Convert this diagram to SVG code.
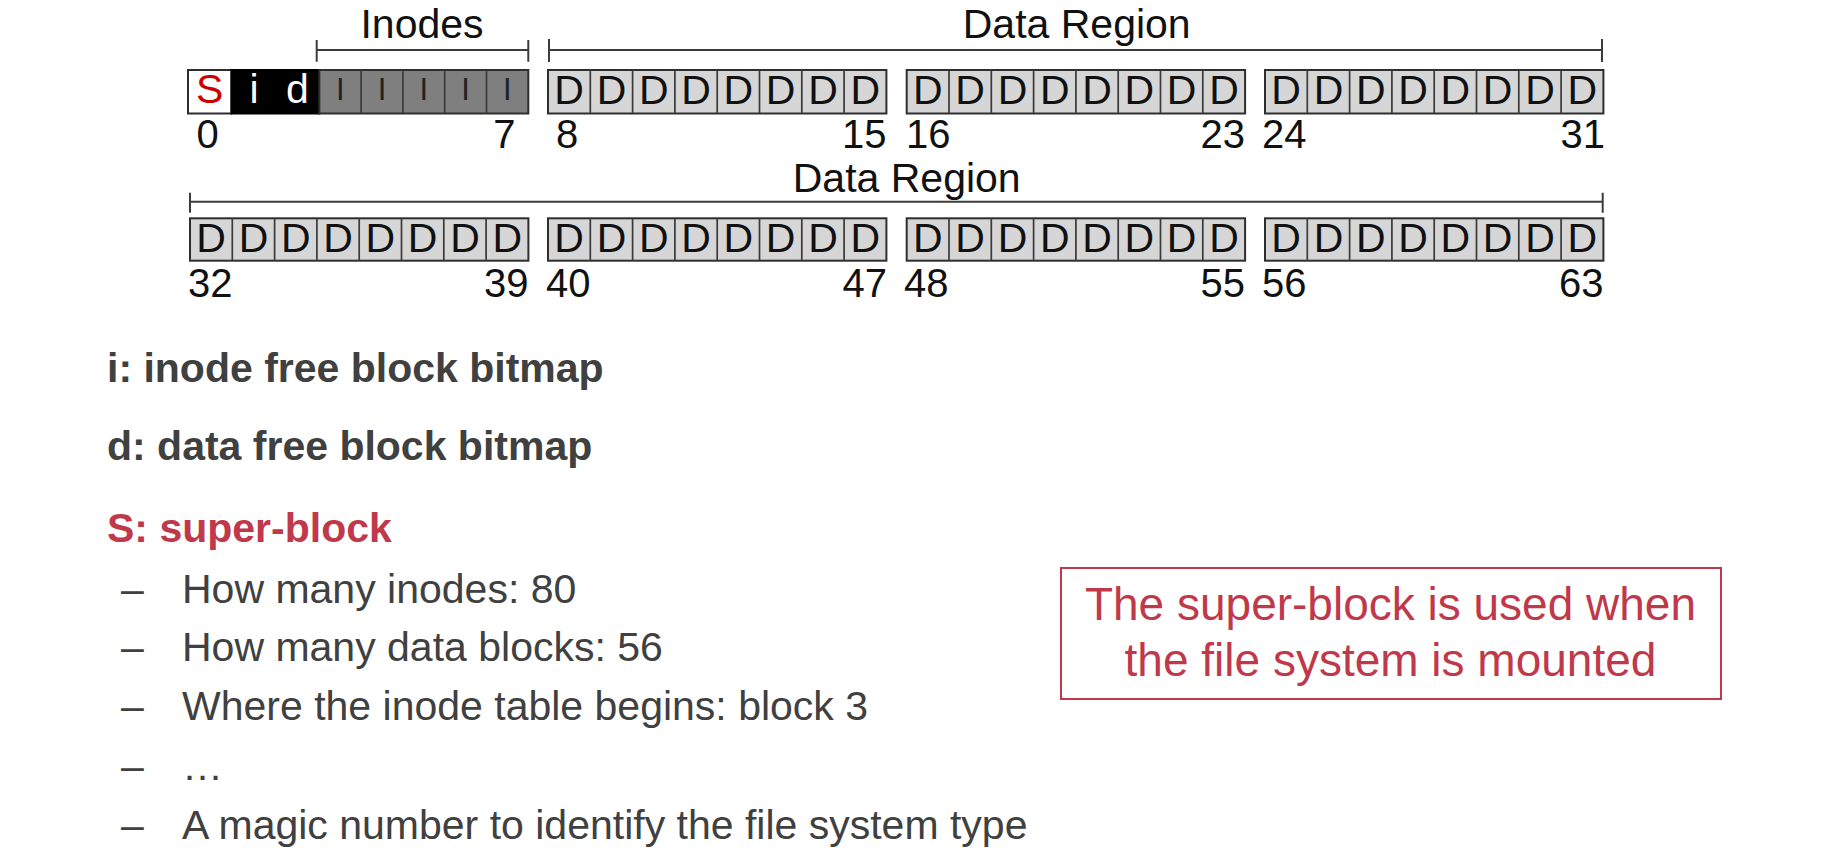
<svg xmlns="http://www.w3.org/2000/svg" width="1836" height="853" viewBox="0 0 1836 853">
<style>
  text { font-family: "Liberation Sans", Arial, Helvetica, sans-serif; }
  .lbl { font-size: 41px; fill: #111; text-anchor: middle; }
  .num { font-size: 40px; fill: #111; }
  .end { text-anchor: end; }
  .cellD { font-size: 41px; fill: #111; text-anchor: middle; }
  .cellI { font-size: 31px; fill: #222; text-anchor: middle; }
  .dgrp { fill: #d6d6d6; stroke: #2e2e2e; stroke-width: 2; }
  .igrp { fill: #7f7f7f; stroke: #2e2e2e; stroke-width: 2; }
  .sep { stroke: #3a3a3a; stroke-width: 1.7; fill: none; }
  .brk { stroke: #3c3c3c; stroke-width: 2; fill: none; }
  .bold { font-size: 41px; font-weight: bold; fill: #404040; }
  .red { fill: #c0394b; }
  .body { font-size: 41px; fill: #404040; }
  .note { font-size: 46px; fill: #c0394b; text-anchor: middle; }
</style>
<rect width="1836" height="853" fill="#ffffff"/>

<!-- brackets / connectors -->
<g id="connectors">
  <path class="brk" d="M316.7 50 H528.3 M316.7 40 V61.7 M528.3 40 V61.7"/>
  <path class="brk" d="M549 50 H1602 M549 39 V62 M1602 39 V62"/>
  <path class="brk" d="M190 201.7 H1602.7 M190 192.7 V212.7 M1602.7 192.7 V212.7"/>
</g>

<g id="label-inodes"><text class="lbl" x="422" y="38.3">Inodes</text></g>
<g id="label-data1"><text class="lbl" x="1076.7" y="38.3">Data Region</text></g>
<g id="label-data2"><text class="lbl" x="906.7" y="191.7">Data Region</text></g>

<!-- Row 1, group 0-7 -->
<g id="blocks-0-7">
  <rect x="188" y="70" width="43.5" height="43.5" fill="#ffffff" stroke="#2e2e2e" stroke-width="2"/>
  <rect x="231.5" y="70" width="87.8" height="43.5" fill="#000000" stroke="#000000" stroke-width="2"/>
  <rect class="igrp" x="319.3" y="70" width="209" height="43.5"/>
  <path class="sep" d="M361.1 70 V113.5 M402.9 70 V113.5 M444.7 70 V113.5 M486.5 70 V113.5"/>
  <text x="209.8" y="103.3" style="font-size:41px;fill:#cc0000;text-anchor:middle">S</text>
  <text x="254" y="103.3" style="font-size:41px;fill:#ffffff;text-anchor:middle">i</text>
  <text x="297.5" y="103.3" style="font-size:41px;fill:#ffffff;text-anchor:middle">d</text>
  <text class="cellI" x="340.2" y="100">I</text>
  <text class="cellI" x="382" y="100">I</text>
  <text class="cellI" x="423.8" y="100">I</text>
  <text class="cellI" x="465.6" y="100">I</text>
  <text class="cellI" x="507.4" y="100">I</text>
  <text class="num" x="196.5" y="148">0</text>
  <text class="num end" x="515.5" y="148">7</text>
</g>

<!-- Row 1, group 8-15 -->
<g id="blocks-8-15">
  <rect class="dgrp" x="548" y="70" width="338.4" height="43.5"/>
  <path class="sep" d="M590.3 70 V113.5 M632.6 70 V113.5 M674.9 70 V113.5 M717.2 70 V113.5 M759.5 70 V113.5 M801.8 70 V113.5 M844.1 70 V113.5"/>
  <text class="cellD" x="569.15" y="103.6">D</text>
  <text class="cellD" x="611.45" y="103.6">D</text>
  <text class="cellD" x="653.75" y="103.6">D</text>
  <text class="cellD" x="696.05" y="103.6">D</text>
  <text class="cellD" x="738.35" y="103.6">D</text>
  <text class="cellD" x="780.65" y="103.6">D</text>
  <text class="cellD" x="822.95" y="103.6">D</text>
  <text class="cellD" x="865.25" y="103.6">D</text>
  <text class="num" x="556" y="148">8</text>
  <text class="num end" x="886.5" y="148">15</text>
</g>

<!-- Row 1, group 16-23 -->
<g id="blocks-16-23">
  <rect class="dgrp" x="906.7" y="70" width="338.4" height="43.5"/>
  <path class="sep" d="M949 70 V113.5 M991.3 70 V113.5 M1033.6 70 V113.5 M1075.9 70 V113.5 M1118.2 70 V113.5 M1160.5 70 V113.5 M1202.8 70 V113.5"/>
  <text class="cellD" x="927.85" y="103.6">D</text>
  <text class="cellD" x="970.15" y="103.6">D</text>
  <text class="cellD" x="1012.45" y="103.6">D</text>
  <text class="cellD" x="1054.75" y="103.6">D</text>
  <text class="cellD" x="1097.05" y="103.6">D</text>
  <text class="cellD" x="1139.35" y="103.6">D</text>
  <text class="cellD" x="1181.65" y="103.6">D</text>
  <text class="cellD" x="1223.95" y="103.6">D</text>
  <text class="num" x="906" y="148">16</text>
  <text class="num end" x="1245" y="148">23</text>
</g>

<!-- Row 1, group 24-31 -->
<g id="blocks-24-31">
  <rect class="dgrp" x="1265" y="70" width="338.4" height="43.5"/>
  <path class="sep" d="M1307.3 70 V113.5 M1349.6 70 V113.5 M1391.9 70 V113.5 M1434.2 70 V113.5 M1476.5 70 V113.5 M1518.8 70 V113.5 M1561.1 70 V113.5"/>
  <text class="cellD" x="1286.15" y="103.6">D</text>
  <text class="cellD" x="1328.45" y="103.6">D</text>
  <text class="cellD" x="1370.75" y="103.6">D</text>
  <text class="cellD" x="1413.05" y="103.6">D</text>
  <text class="cellD" x="1455.35" y="103.6">D</text>
  <text class="cellD" x="1497.65" y="103.6">D</text>
  <text class="cellD" x="1539.95" y="103.6">D</text>
  <text class="cellD" x="1582.25" y="103.6">D</text>
  <text class="num" x="1262" y="148">24</text>
  <text class="num end" x="1605" y="148">31</text>
</g>

<!-- Row 2, group 32-39 -->
<g id="blocks-32-39">
  <rect class="dgrp" x="190" y="218.3" width="338.4" height="42.4"/>
  <path class="sep" d="M232.3 218.3 V260.7 M274.6 218.3 V260.7 M316.9 218.3 V260.7 M359.2 218.3 V260.7 M401.5 218.3 V260.7 M443.8 218.3 V260.7 M486.1 218.3 V260.7"/>
  <text class="cellD" x="211.15" y="251.8">D</text>
  <text class="cellD" x="253.45" y="251.8">D</text>
  <text class="cellD" x="295.75" y="251.8">D</text>
  <text class="cellD" x="338.05" y="251.8">D</text>
  <text class="cellD" x="380.35" y="251.8">D</text>
  <text class="cellD" x="422.65" y="251.8">D</text>
  <text class="cellD" x="464.95" y="251.8">D</text>
  <text class="cellD" x="507.25" y="251.8">D</text>
  <text class="num" x="188" y="296.7">32</text>
  <text class="num end" x="528.4" y="296.7">39</text>
</g>

<!-- Row 2, group 40-47 -->
<g id="blocks-40-47">
  <rect class="dgrp" x="548" y="218.3" width="338.4" height="42.4"/>
  <path class="sep" d="M590.3 218.3 V260.7 M632.6 218.3 V260.7 M674.9 218.3 V260.7 M717.2 218.3 V260.7 M759.5 218.3 V260.7 M801.8 218.3 V260.7 M844.1 218.3 V260.7"/>
  <text class="cellD" x="569.15" y="251.8">D</text>
  <text class="cellD" x="611.45" y="251.8">D</text>
  <text class="cellD" x="653.75" y="251.8">D</text>
  <text class="cellD" x="696.05" y="251.8">D</text>
  <text class="cellD" x="738.35" y="251.8">D</text>
  <text class="cellD" x="780.65" y="251.8">D</text>
  <text class="cellD" x="822.95" y="251.8">D</text>
  <text class="cellD" x="865.25" y="251.8">D</text>
  <text class="num" x="546" y="296.7">40</text>
  <text class="num end" x="887" y="296.7">47</text>
</g>

<!-- Row 2, group 48-55 -->
<g id="blocks-48-55">
  <rect class="dgrp" x="906.7" y="218.3" width="338.4" height="42.4"/>
  <path class="sep" d="M949 218.3 V260.7 M991.3 218.3 V260.7 M1033.6 218.3 V260.7 M1075.9 218.3 V260.7 M1118.2 218.3 V260.7 M1160.5 218.3 V260.7 M1202.8 218.3 V260.7"/>
  <text class="cellD" x="927.85" y="251.8">D</text>
  <text class="cellD" x="970.15" y="251.8">D</text>
  <text class="cellD" x="1012.45" y="251.8">D</text>
  <text class="cellD" x="1054.75" y="251.8">D</text>
  <text class="cellD" x="1097.05" y="251.8">D</text>
  <text class="cellD" x="1139.35" y="251.8">D</text>
  <text class="cellD" x="1181.65" y="251.8">D</text>
  <text class="cellD" x="1223.95" y="251.8">D</text>
  <text class="num" x="904" y="296.7">48</text>
  <text class="num end" x="1245" y="296.7">55</text>
</g>

<!-- Row 2, group 56-63 -->
<g id="blocks-56-63">
  <rect class="dgrp" x="1265" y="218.3" width="338.4" height="42.4"/>
  <path class="sep" d="M1307.3 218.3 V260.7 M1349.6 218.3 V260.7 M1391.9 218.3 V260.7 M1434.2 218.3 V260.7 M1476.5 218.3 V260.7 M1518.8 218.3 V260.7 M1561.1 218.3 V260.7"/>
  <text class="cellD" x="1286.15" y="251.8">D</text>
  <text class="cellD" x="1328.45" y="251.8">D</text>
  <text class="cellD" x="1370.75" y="251.8">D</text>
  <text class="cellD" x="1413.05" y="251.8">D</text>
  <text class="cellD" x="1455.35" y="251.8">D</text>
  <text class="cellD" x="1497.65" y="251.8">D</text>
  <text class="cellD" x="1539.95" y="251.8">D</text>
  <text class="cellD" x="1582.25" y="251.8">D</text>
  <text class="num" x="1262" y="296.7">56</text>
  <text class="num end" x="1603.5" y="296.7">63</text>
</g>

<!-- Legend / description -->
<g id="legend">
  <text class="bold" x="107" y="382">i: inode free block bitmap</text>
  <text class="bold" x="107" y="460">d: data free block bitmap</text>
  <text class="bold red" x="107" y="541.7">S: super-block</text>
</g>

<g id="bullets">
  <text class="body" x="121" y="602.7">–</text>
  <text class="body" x="182" y="602.7">How many inodes: 80</text>
  <text class="body" x="121" y="661">–</text>
  <text class="body" x="182" y="661">How many data blocks: 56</text>
  <text class="body" x="121" y="720">–</text>
  <text class="body" x="182" y="720">Where the inode table begins: block 3</text>
  <text class="body" x="121" y="779.5">–</text>
  <text class="body" x="182" y="779.5">…</text>
  <text class="body" x="121" y="839">–</text>
  <text class="body" x="182" y="839">A magic number to identify the file system type</text>
</g>

<g id="note">
  <rect x="1061" y="568" width="660" height="131" fill="none" stroke="#c0394b" stroke-width="2"/>
  <text class="note" x="1390.5" y="620">The super-block is used when</text>
  <text class="note" x="1390.5" y="675.5">the file system is mounted</text>
</g>
</svg>
